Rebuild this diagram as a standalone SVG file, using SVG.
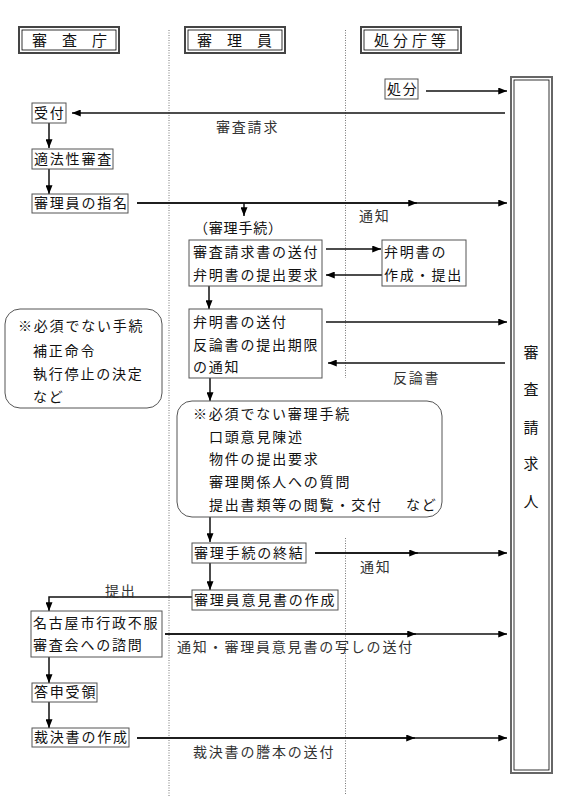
<svg xmlns="http://www.w3.org/2000/svg" width="579" height="800" viewBox="0 0 579 800">
<style>
.t{font-family:"Noto Sans CJK JP","Noto Sans CJK SC",sans-serif;font-size:14px;letter-spacing:1.8px;fill:#111}
.h{font-family:"Noto Sans CJK JP","Noto Sans CJK SC",sans-serif;font-size:15px;fill:#111}
.lb{fill:#333}
.box{fill:#fff;stroke:#555;stroke-width:1}
.rbox{fill:#fff;stroke:#555;stroke-width:1}
.dbo{fill:#fff;stroke:#444;stroke-width:2}
.dbi{fill:none;stroke:#000;stroke-width:0.8}
.ln{stroke:#111;stroke-width:1.5;fill:none}
.arr{marker-end:url(#ah)}
.dot{stroke:#777;stroke-width:1;stroke-dasharray:1 1.5;fill:none}
</style>
<defs>
<marker id="ah" viewBox="0 0 10 8" refX="10" refY="4" markerWidth="9" markerHeight="7" markerUnits="userSpaceOnUse" orient="auto">
<path d="M0,0 L10,4 L0,8 z" fill="#000"/>
</marker>
</defs>
<rect width="579" height="800" fill="#fff"/>

<g id="lanes">
<line class="dot" x1="169" y1="30" x2="169" y2="797"/>
<line class="dot" x1="345.5" y1="30" x2="345.5" y2="378"/>
<line class="dot" x1="345.5" y1="538" x2="345.5" y2="795"/>
</g>

<g id="connectors">
<line class="ln arr" x1="426" y1="91" x2="507" y2="91"/>
<line class="ln arr" x1="505" y1="113" x2="72" y2="113"/>
<line class="ln arr" x1="49" y1="123" x2="49" y2="148"/>
<line class="ln arr" x1="49" y1="169" x2="49" y2="194"/>
<line class="ln arr" x1="137" y1="203" x2="507" y2="203"/>
<line class="ln arr" x1="137" y1="203" x2="417" y2="203"/>
<line class="ln arr" x1="244" y1="203" x2="244" y2="216"/>
<line class="ln arr" x1="326" y1="249" x2="381" y2="249"/>
<line class="ln arr" x1="382" y1="275" x2="326" y2="275"/>
<line class="ln arr" x1="209" y1="286" x2="209" y2="309"/>
<line class="ln arr" x1="326" y1="322" x2="507" y2="322"/>
<line class="ln arr" x1="505" y1="363" x2="328" y2="363"/>
<line class="ln arr" x1="210" y1="378" x2="210" y2="401"/>
<line class="ln arr" x1="210" y1="517" x2="210" y2="542"/>
<line class="ln arr" x1="315" y1="553" x2="507" y2="553"/>
<line class="ln arr" x1="315" y1="553" x2="418" y2="553"/>
<line class="ln arr" x1="210" y1="563" x2="210" y2="590"/>
<polyline class="ln arr" points="192,597 49,597 49,611"/>
<line class="ln arr" x1="165" y1="634" x2="507" y2="634"/>
<line class="ln arr" x1="165" y1="634" x2="416" y2="634"/>
<line class="ln arr" x1="49" y1="657" x2="49" y2="683"/>
<line class="ln arr" x1="49" y1="702" x2="49" y2="728"/>
<line class="ln arr" x1="137" y1="738" x2="507" y2="738"/>
<line class="ln arr" x1="137" y1="738" x2="415" y2="738"/>
</g>

<g id="labels">
<text class="t lb" x="216" y="132">審査請求</text>
<text class="t lb" x="359" y="221">通知</text>
<text class="t" x="194" y="233" style="letter-spacing:0.8px">（審理手続）</text>
<text class="t lb" x="393" y="383">反論書</text>
<text class="t lb" x="360" y="572">通知</text>
<text class="t lb" x="105" y="596">提出</text>
<text class="t lb" x="177" y="652">通知・審理員意見書の写しの送付</text>
<text class="t lb" x="193" y="757">裁決書の謄本の送付</text>
</g>

<g id="hdr-shinsacho">
<rect class="dbo" x="19" y="27" width="100" height="26"/>
<rect class="dbi" x="22" y="30" width="94" height="20"/>
<text class="h" x="32" y="46">審　査　庁</text>
</g>
<g id="hdr-shinriin">
<rect class="dbo" x="185" y="27" width="100" height="26"/>
<rect class="dbi" x="188" y="30" width="94" height="20"/>
<text class="h" x="197" y="46">審　理　員</text>
</g>
<g id="hdr-shobuncho">
<rect class="dbo" x="361" y="27" width="100" height="26"/>
<rect class="dbi" x="364" y="30" width="94" height="20"/>
<text class="h" x="374" y="46" style="letter-spacing:4px">処分庁等</text>
</g>

<g id="seikyunin">
<rect class="dbo" x="511" y="77" width="41" height="696" style="stroke:#666"/>
<rect class="dbi" x="514" y="80" width="35" height="690"/>
<text class="h" x="531" y="358" text-anchor="middle">審</text>
<text class="h" x="531" y="395" text-anchor="middle">査</text>
<text class="h" x="531" y="433" text-anchor="middle">請</text>
<text class="h" x="531" y="469" text-anchor="middle">求</text>
<text class="h" x="531" y="507" text-anchor="middle">人</text>
</g>

<g id="shobun">
<rect class="box" x="385" y="79" width="33" height="20"/>
<text class="t" x="387" y="94">処分</text>
</g>
<g id="uketsuke">
<rect class="box" x="32" y="103" width="34" height="20"/>
<text class="t" x="34" y="118">受付</text>
</g>
<g id="tekihosei">
<rect class="box" x="32" y="149" width="81" height="20"/>
<text class="t" x="34" y="164">適法性審査</text>
</g>
<g id="shimei">
<rect class="box" x="32" y="194" width="96" height="19"/>
<text class="t" x="34" y="208">審理員の指名</text>
</g>
<g id="sofu1">
<rect class="box" x="189" y="240" width="133" height="46"/>
<text class="t" x="193" y="257">審査請求書の送付</text>
<text class="t" x="193" y="280">弁明書の提出要求</text>
</g>
<g id="benmeisho">
<rect class="box" x="382" y="240" width="84" height="46"/>
<text class="t" x="384" y="257">弁明書の</text>
<text class="t" x="384" y="280">作成・提出</text>
</g>
<g id="sofu2">
<rect class="box" x="189" y="309" width="133" height="69"/>
<text class="t" x="193" y="327">弁明書の送付</text>
<text class="t" x="193" y="350">反論書の提出期限</text>
<text class="t" x="193" y="372">の通知</text>
</g>
<g id="nini-tetsuzuki">
<rect class="rbox" x="5" y="309" width="157" height="99" rx="15" ry="15"/>
<text class="t" x="18" y="331">※必須でない手続</text>
<text class="t" x="33" y="356">補正命令</text>
<text class="t" x="33" y="379">執行停止の決定</text>
<text class="t" x="33" y="402">など</text>
</g>
<g id="nini-shinri">
<rect class="rbox" x="177" y="401" width="265" height="116" rx="15" ry="15"/>
<text class="t" x="193" y="419">※必須でない審理手続</text>
<text class="t" x="209" y="442">口頭意見陳述</text>
<text class="t" x="209" y="464">物件の提出要求</text>
<text class="t" x="209" y="487">審理関係人への質問</text>
<text class="t" x="209" y="510">提出書類等の閲覧・交付<tspan x="406">など</tspan></text>
</g>
<g id="shuketsu">
<rect class="box" x="192" y="543" width="114" height="20"/>
<text class="t" x="194" y="558">審理手続の終結</text>
</g>
<g id="ikensho">
<rect class="box" x="192" y="590" width="146" height="20"/>
<text class="t" x="194" y="605">審理員意見書の作成</text>
</g>
<g id="shimon">
<rect class="box" x="31" y="611" width="131" height="46"/>
<text class="t" x="33" y="628">名古屋市行政不服</text>
<text class="t" x="33" y="650">審査会への諮問</text>
</g>
<g id="toshin">
<rect class="box" x="32" y="683" width="65" height="19"/>
<text class="t" x="34" y="697">答申受領</text>
</g>
<g id="saiketsu">
<rect class="box" x="32" y="728" width="97" height="19"/>
<text class="t" x="34" y="742">裁決書の作成</text>
</g>
</svg>
